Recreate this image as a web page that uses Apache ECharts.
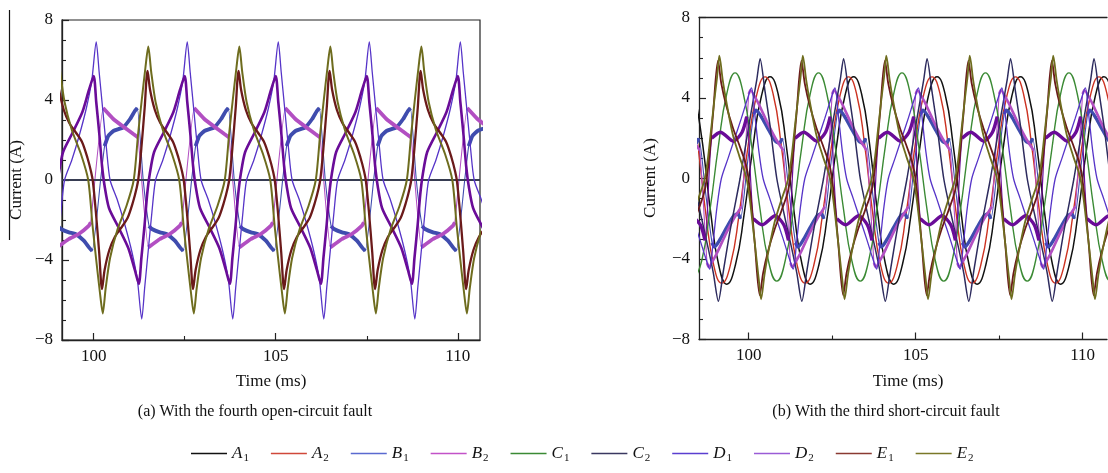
<!DOCTYPE html>
<html><head><meta charset="utf-8">
<script src="https://cdn.jsdelivr.net/npm/echarts@6.0.0/dist/echarts.min.js"></script>
<style>html,body{margin:0;padding:0;background:#fff}#c{width:1108px;height:473px}</style>
</head><body><div id="c"></div><script>
// ---------- panel (a): fourth open-circuit fault ----------
const aZero = [[99.13,0],[110.61,0]];
const aB1 = [[98.70,3.6],[98.86,0],[99.02,-2.3],[99.10,-2.45],[99.32,-2.62],[99.50,-2.70],[99.73,-3.03],[99.87,-3.37],[99.96,-3.55],
[100.19,0],[100.30,1.7],[100.40,2.2],[100.54,2.45],[100.81,2.63],[101.00,3.05],[101.13,3.45],[101.20,3.6],[101.36,0],[101.52,-2.3],[101.60,-2.45],[101.82,-2.62],[102.00,-2.70],[102.23,-3.03],[102.37,-3.37],[102.46,-3.55],
[102.69,0],[102.80,1.7],[102.90,2.2],[103.04,2.45],[103.31,2.63],[103.50,3.05],[103.63,3.45],[103.70,3.6],[103.86,0],[104.02,-2.3],[104.10,-2.45],[104.32,-2.62],[104.50,-2.70],[104.73,-3.03],[104.87,-3.37],[104.96,-3.55],
[105.19,0],[105.30,1.7],[105.40,2.2],[105.54,2.45],[105.81,2.63],[106.00,3.05],[106.13,3.45],[106.20,3.6],[106.36,0],[106.52,-2.3],[106.60,-2.45],[106.82,-2.62],[107.00,-2.70],[107.23,-3.03],[107.37,-3.37],[107.46,-3.55],
[107.69,0],[107.80,1.7],[107.90,2.2],[108.04,2.45],[108.31,2.63],[108.50,3.05],[108.63,3.45],[108.70,3.6],[108.86,0],[109.02,-2.3],[109.10,-2.45],[109.32,-2.62],[109.50,-2.70],[109.73,-3.03],[109.87,-3.37],[109.96,-3.55],
[110.19,0],[110.30,1.7],[110.40,2.2],[110.54,2.45],[110.81,2.63]];
const aB2 = [[98.72,2.13],[99.00,-3.37],[99.32,-2.95],[99.59,-2.70],[99.87,-2.28],[99.92,-2.12],
[100.26,3.6],[100.54,3.05],[100.81,2.67],[101.09,2.30],[101.22,2.13],[101.50,-3.37],[101.82,-2.95],[102.09,-2.70],[102.37,-2.28],[102.42,-2.12],
[102.76,3.6],[103.04,3.05],[103.31,2.67],[103.59,2.30],[103.72,2.13],[104.00,-3.37],[104.32,-2.95],[104.59,-2.70],[104.87,-2.28],[104.92,-2.12],
[105.26,3.6],[105.54,3.05],[105.81,2.67],[106.09,2.30],[106.22,2.13],[106.50,-3.37],[106.82,-2.95],[107.09,-2.70],[107.37,-2.28],[107.42,-2.12],
[107.76,3.6],[108.04,3.05],[108.31,2.67],[108.59,2.30],[108.72,2.13],[109.00,-3.37],[109.32,-2.95],[109.59,-2.70],[109.87,-2.28],[109.92,-2.12],
[110.26,3.6],[110.54,3.05],[110.81,2.67]];
const aD1 = [[98.82,-6.95],[98.90,-5.4],[99.00,-3.5],[99.10,-1.6],[99.20,0],[99.40,1.0],[99.60,2.2],[99.80,3.6],[99.95,5.0],[100.07,6.9],
[100.15,5.4],[100.25,3.5],[100.35,1.6],[100.45,0],[100.65,-1.0],[100.85,-2.2],[101.05,-3.6],[101.20,-5.0],[101.32,-6.95],
[101.40,-5.4],[101.50,-3.5],[101.60,-1.6],[101.70,0],[101.90,1.0],[102.10,2.2],[102.30,3.6],[102.45,5.0],[102.57,6.9],
[102.65,5.4],[102.75,3.5],[102.85,1.6],[102.95,0],[103.15,-1.0],[103.35,-2.2],[103.55,-3.6],[103.70,-5.0],[103.82,-6.95],
[103.90,-5.4],[104.00,-3.5],[104.10,-1.6],[104.20,0],[104.40,1.0],[104.60,2.2],[104.80,3.6],[104.95,5.0],[105.07,6.9],
[105.15,5.4],[105.25,3.5],[105.35,1.6],[105.45,0],[105.65,-1.0],[105.85,-2.2],[106.05,-3.6],[106.20,-5.0],[106.32,-6.95],
[106.40,-5.4],[106.50,-3.5],[106.60,-1.6],[106.70,0],[106.90,1.0],[107.10,2.2],[107.30,3.6],[107.45,5.0],[107.57,6.9],
[107.65,5.4],[107.75,3.5],[107.85,1.6],[107.95,0],[108.15,-1.0],[108.35,-2.2],[108.55,-3.6],[108.70,-5.0],[108.82,-6.95],
[108.90,-5.4],[109.00,-3.5],[109.10,-1.6],[109.20,0],[109.40,1.0],[109.60,2.2],[109.80,3.6],[109.95,5.0],[110.07,6.9],
[110.15,5.4],[110.25,3.5],[110.35,1.6],[110.45,0],[110.65,-1.0],[110.85,-2.2]];
const aD2 = [[98.74,-5.2],[98.81,-3.9],[98.90,-2.2],[98.97,-0.7],[99.04,0.3],[99.16,1.4],[99.43,2.4],[99.69,3.4],[99.87,4.5],[100.00,5.2],
[100.07,3.9],[100.16,2.2],[100.23,0.7],[100.30,-0.3],[100.42,-1.4],[100.69,-2.4],[100.95,-3.4],[101.13,-4.5],[101.24,-5.2],
[101.31,-3.9],[101.40,-2.2],[101.47,-0.7],[101.54,0.3],[101.66,1.4],[101.93,2.4],[102.19,3.4],[102.37,4.5],[102.50,5.2],
[102.57,3.9],[102.66,2.2],[102.73,0.7],[102.80,-0.3],[102.92,-1.4],[103.19,-2.4],[103.45,-3.4],[103.63,-4.5],[103.74,-5.2],
[103.81,-3.9],[103.90,-2.2],[103.97,-0.7],[104.04,0.3],[104.16,1.4],[104.43,2.4],[104.69,3.4],[104.87,4.5],[105.00,5.2],
[105.07,3.9],[105.16,2.2],[105.23,0.7],[105.30,-0.3],[105.42,-1.4],[105.69,-2.4],[105.95,-3.4],[106.13,-4.5],[106.24,-5.2],
[106.31,-3.9],[106.40,-2.2],[106.47,-0.7],[106.54,0.3],[106.66,1.4],[106.93,2.4],[107.19,3.4],[107.37,4.5],[107.50,5.2],
[107.57,3.9],[107.66,2.2],[107.73,0.7],[107.80,-0.3],[107.92,-1.4],[108.19,-2.4],[108.45,-3.4],[108.63,-4.5],[108.74,-5.2],
[108.81,-3.9],[108.90,-2.2],[108.97,-0.7],[109.04,0.3],[109.16,1.4],[109.43,2.4],[109.69,3.4],[109.87,4.5],[110.00,5.2],
[110.07,3.9],[110.16,2.2],[110.23,0.7],[110.30,-0.3],[110.42,-1.4],[110.69,-2.4],[110.95,-3.4]];
const aE1 = [[98.43,-1.9],[98.58,-1.1],[98.68,-0.4],[98.73,0.1],[98.81,1.6],[98.90,3.6],[98.98,5.45],
[99.05,4.5],[99.18,3.5],[99.33,2.85],[99.50,2.4],[99.68,1.9],[99.83,1.1],[99.93,0.4],[99.98,-0.1],[100.06,-1.6],[100.15,-3.6],[100.23,-5.45],
[100.30,-4.5],[100.43,-3.5],[100.58,-2.85],[100.75,-2.4],[100.93,-1.9],[101.08,-1.1],[101.18,-0.4],[101.23,0.1],[101.31,1.6],[101.40,3.6],[101.48,5.45],
[101.55,4.5],[101.68,3.5],[101.83,2.85],[102.00,2.4],[102.18,1.9],[102.33,1.1],[102.43,0.4],[102.48,-0.1],[102.56,-1.6],[102.65,-3.6],[102.73,-5.45],
[102.80,-4.5],[102.93,-3.5],[103.08,-2.85],[103.25,-2.4],[103.43,-1.9],[103.58,-1.1],[103.68,-0.4],[103.73,0.1],[103.81,1.6],[103.90,3.6],[103.98,5.45],
[104.05,4.5],[104.18,3.5],[104.33,2.85],[104.50,2.4],[104.68,1.9],[104.83,1.1],[104.93,0.4],[104.98,-0.1],[105.06,-1.6],[105.15,-3.6],[105.23,-5.45],
[105.30,-4.5],[105.43,-3.5],[105.58,-2.85],[105.75,-2.4],[105.93,-1.9],[106.08,-1.1],[106.18,-0.4],[106.23,0.1],[106.31,1.6],[106.40,3.6],[106.48,5.45],
[106.55,4.5],[106.68,3.5],[106.83,2.85],[107.00,2.4],[107.18,1.9],[107.33,1.1],[107.43,0.4],[107.48,-0.1],[107.56,-1.6],[107.65,-3.6],[107.73,-5.45],
[107.80,-4.5],[107.93,-3.5],[108.08,-2.85],[108.25,-2.4],[108.43,-1.9],[108.58,-1.1],[108.68,-0.4],[108.73,0.1],[108.81,1.6],[108.90,3.6],[108.98,5.45],
[109.05,4.5],[109.18,3.5],[109.33,2.85],[109.50,2.4],[109.68,1.9],[109.83,1.1],[109.93,0.4],[109.98,-0.1],[110.06,-1.6],[110.15,-3.6],[110.23,-5.45],
[110.30,-4.5],[110.43,-3.5],[110.58,-2.85],[110.75,-2.4]];
const aE2 = [[98.60,0],[98.72,2.3],[98.82,4.0],[98.92,5.6],[99.00,6.67],
[99.08,5.4],[99.20,3.9],[99.40,2.5],[99.65,1.3],[99.85,0],[99.97,-2.3],[100.07,-4.0],[100.17,-5.6],[100.25,-6.67],
[100.33,-5.4],[100.45,-3.9],[100.65,-2.5],[100.90,-1.3],[101.10,0],[101.22,2.3],[101.32,4.0],[101.42,5.6],[101.50,6.67],
[101.58,5.4],[101.70,3.9],[101.90,2.5],[102.15,1.3],[102.35,0],[102.47,-2.3],[102.57,-4.0],[102.67,-5.6],[102.75,-6.67],
[102.83,-5.4],[102.95,-3.9],[103.15,-2.5],[103.40,-1.3],[103.60,0],[103.72,2.3],[103.82,4.0],[103.92,5.6],[104.00,6.67],
[104.08,5.4],[104.20,3.9],[104.40,2.5],[104.65,1.3],[104.85,0],[104.97,-2.3],[105.07,-4.0],[105.17,-5.6],[105.25,-6.67],
[105.33,-5.4],[105.45,-3.9],[105.65,-2.5],[105.90,-1.3],[106.10,0],[106.22,2.3],[106.32,4.0],[106.42,5.6],[106.50,6.67],
[106.58,5.4],[106.70,3.9],[106.90,2.5],[107.15,1.3],[107.35,0],[107.47,-2.3],[107.57,-4.0],[107.67,-5.6],[107.75,-6.67],
[107.83,-5.4],[107.95,-3.9],[108.15,-2.5],[108.40,-1.3],[108.60,0],[108.72,2.3],[108.82,4.0],[108.92,5.6],[109.00,6.67],
[109.08,5.4],[109.20,3.9],[109.40,2.5],[109.65,1.3],[109.85,0],[109.97,-2.3],[110.07,-4.0],[110.17,-5.6],[110.25,-6.67],
[110.33,-5.4],[110.45,-3.9],[110.65,-2.5],[110.90,-1.3]];

// ---------- panel (b): third short-circuit fault ----------
const bA1 = [[98.38,4.2],[98.62,1.7],[98.86,-1.7],[99.10,-4.3],[99.34,-5.25],[99.60,-4.3],[99.86,-1.8],[100.12,1.5],[100.38,4.1],[100.64,5.05],
[100.88,4.2],[101.12,1.7],[101.36,-1.7],[101.60,-4.3],[101.84,-5.25],[102.10,-4.3],[102.36,-1.8],[102.62,1.5],[102.88,4.1],[103.14,5.05],
[103.38,4.2],[103.62,1.7],[103.86,-1.7],[104.10,-4.3],[104.34,-5.25],[104.60,-4.3],[104.86,-1.8],[105.12,1.5],[105.38,4.1],[105.64,5.05],
[105.88,4.2],[106.12,1.7],[106.36,-1.7],[106.60,-4.3],[106.84,-5.25],[107.10,-4.3],[107.36,-1.8],[107.62,1.5],[107.88,4.1],[108.14,5.05],
[108.38,4.2],[108.62,1.7],[108.86,-1.7],[109.10,-4.3],[109.34,-5.25],[109.60,-4.3],[109.86,-1.8],[110.12,1.5],[110.38,4.1],[110.64,5.05],
[110.88,4.2],[111.12,1.7]];
const bA2 = [[98.23,4.2],[98.47,1.7],[98.71,-1.7],[98.95,-4.3],[99.19,-5.2],[99.45,-4.3],[99.71,-1.8],[99.97,1.5],[100.23,4.1],[100.49,5.05],
[100.73,4.2],[100.97,1.7],[101.21,-1.7],[101.45,-4.3],[101.69,-5.2],[101.95,-4.3],[102.21,-1.8],[102.47,1.5],[102.73,4.1],[102.99,5.05],
[103.23,4.2],[103.47,1.7],[103.71,-1.7],[103.95,-4.3],[104.19,-5.2],[104.45,-4.3],[104.71,-1.8],[104.97,1.5],[105.23,4.1],[105.49,5.05],
[105.73,4.2],[105.97,1.7],[106.21,-1.7],[106.45,-4.3],[106.69,-5.2],[106.95,-4.3],[107.21,-1.8],[107.47,1.5],[107.73,4.1],[107.99,5.05],
[108.23,4.2],[108.47,1.7],[108.71,-1.7],[108.95,-4.3],[109.19,-5.2],[109.45,-4.3],[109.71,-1.8],[109.97,1.5],[110.23,4.1],[110.49,5.05],
[110.73,4.2],[110.97,1.7],[111.21,-1.7]];
const bB1 = [[98.10,2.4],[98.30,1.85],[98.42,1.75],[98.50,2.0],[98.70,-0.6],[98.90,-3.2],[98.97,-3.4],[99.15,-3.0],[99.35,-2.4],[99.55,-1.85],[99.67,-1.75],
[99.75,-2.0],[99.95,0.6],[100.15,3.2],[100.22,3.4],[100.40,3.0],[100.60,2.4],[100.80,1.85],[100.92,1.75],[101.00,2.0],[101.20,-0.6],[101.40,-3.2],[101.47,-3.4],[101.65,-3.0],[101.85,-2.4],[102.05,-1.85],[102.17,-1.75],
[102.25,-2.0],[102.45,0.6],[102.65,3.2],[102.72,3.4],[102.90,3.0],[103.10,2.4],[103.30,1.85],[103.42,1.75],[103.50,2.0],[103.70,-0.6],[103.90,-3.2],[103.97,-3.4],[104.15,-3.0],[104.35,-2.4],[104.55,-1.85],[104.67,-1.75],
[104.75,-2.0],[104.95,0.6],[105.15,3.2],[105.22,3.4],[105.40,3.0],[105.60,2.4],[105.80,1.85],[105.92,1.75],[106.00,2.0],[106.20,-0.6],[106.40,-3.2],[106.47,-3.4],[106.65,-3.0],[106.85,-2.4],[107.05,-1.85],[107.17,-1.75],
[107.25,-2.0],[107.45,0.6],[107.65,3.2],[107.72,3.4],[107.90,3.0],[108.10,2.4],[108.30,1.85],[108.42,1.75],[108.50,2.0],[108.70,-0.6],[108.90,-3.2],[108.97,-3.4],[109.15,-3.0],[109.35,-2.4],[109.55,-1.85],[109.67,-1.75],
[109.75,-2.0],[109.95,0.6],[110.15,3.2],[110.22,3.4],[110.40,3.0],[110.60,2.4],[110.80,1.85],[110.92,1.75],[111.00,2.0],[111.20,-0.6]];
const bB2 = [[98.05,2.8],[98.30,2.0],[98.53,1.4],[98.75,-4.2],[98.80,-4.4],[99.05,-3.7],[99.30,-2.8],[99.55,-2.0],[99.78,-1.4],
[100.00,4.2],[100.05,4.4],[100.30,3.7],[100.55,2.8],[100.80,2.0],[101.03,1.4],[101.25,-4.2],[101.30,-4.4],[101.55,-3.7],[101.80,-2.8],[102.05,-2.0],[102.28,-1.4],
[102.50,4.2],[102.55,4.4],[102.80,3.7],[103.05,2.8],[103.30,2.0],[103.53,1.4],[103.75,-4.2],[103.80,-4.4],[104.05,-3.7],[104.30,-2.8],[104.55,-2.0],[104.78,-1.4],
[105.00,4.2],[105.05,4.4],[105.30,3.7],[105.55,2.8],[105.80,2.0],[106.03,1.4],[106.25,-4.2],[106.30,-4.4],[106.55,-3.7],[106.80,-2.8],[107.05,-2.0],[107.28,-1.4],
[107.50,4.2],[107.55,4.4],[107.80,3.7],[108.05,2.8],[108.30,2.0],[108.53,1.4],[108.75,-4.2],[108.80,-4.4],[109.05,-3.7],[109.30,-2.8],[109.55,-2.0],[109.78,-1.4],
[110.00,4.2],[110.05,4.4],[110.30,3.7],[110.55,2.8],[110.80,2.0],[111.03,1.4],[111.25,-4.2]];
const bC1 = [[98.34,-5.1],[98.59,-4.1],[98.84,-1.55],[99.09,1.6],[99.34,4.2],[99.59,5.25],[99.84,4.2],[100.09,1.6],[100.34,-1.55],[100.59,-4.1],
[100.84,-5.1],[101.09,-4.1],[101.34,-1.55],[101.59,1.6],[101.84,4.2],[102.09,5.25],[102.34,4.2],[102.59,1.6],[102.84,-1.55],[103.09,-4.1],
[103.34,-5.1],[103.59,-4.1],[103.84,-1.55],[104.09,1.6],[104.34,4.2],[104.59,5.25],[104.84,4.2],[105.09,1.6],[105.34,-1.55],[105.59,-4.1],
[105.84,-5.1],[106.09,-4.1],[106.34,-1.55],[106.59,1.6],[106.84,4.2],[107.09,5.25],[107.34,4.2],[107.59,1.6],[107.84,-1.55],[108.09,-4.1],
[108.34,-5.1],[108.59,-4.1],[108.84,-1.55],[109.09,1.6],[109.34,4.2],[109.59,5.25],[109.84,4.2],[110.09,1.6],[110.34,-1.55],[110.59,-4.1],
[110.84,-5.1],[111.09,-4.1]];
const bC2 = [[97.84,5.95],[97.99,4.3],[98.14,2.6],[98.34,0],[98.59,-2.0],[98.79,-3.5],[98.94,-4.7],[99.09,-6.1],[99.24,-4.6],[99.44,-2.6],[99.74,0],[100.04,3.0],[100.24,4.9],[100.34,5.95],
[100.49,4.3],[100.64,2.6],[100.84,0],[101.09,-2.0],[101.29,-3.5],[101.44,-4.7],[101.59,-6.1],[101.74,-4.6],[101.94,-2.6],[102.24,0],[102.54,3.0],[102.74,4.9],[102.84,5.95],
[102.99,4.3],[103.14,2.6],[103.34,0],[103.59,-2.0],[103.79,-3.5],[103.94,-4.7],[104.09,-6.1],[104.24,-4.6],[104.44,-2.6],[104.74,0],[105.04,3.0],[105.24,4.9],[105.34,5.95],
[105.49,4.3],[105.64,2.6],[105.84,0],[106.09,-2.0],[106.29,-3.5],[106.44,-4.7],[106.59,-6.1],[106.74,-4.6],[106.94,-2.6],[107.24,0],[107.54,3.0],[107.74,4.9],[107.84,5.95],
[107.99,4.3],[108.14,2.6],[108.34,0],[108.59,-2.0],[108.79,-3.5],[108.94,-4.7],[109.09,-6.1],[109.24,-4.6],[109.44,-2.6],[109.74,0],[110.04,3.0],[110.24,4.9],[110.34,5.95],
[110.49,4.3],[110.64,2.6],[110.84,0],[111.09,-2.0]];
const bD1 = [[98.13,-1.0],[98.33,-2.0],[98.53,-3.0],[98.70,-3.9],[98.83,-4.5],[98.93,-3.2],[99.05,-1.4],[99.18,0],[99.38,1.0],[99.58,2.0],[99.78,3.0],[99.95,3.9],[100.08,4.5],
[100.18,3.2],[100.30,1.4],[100.43,0],[100.63,-1.0],[100.83,-2.0],[101.03,-3.0],[101.20,-3.9],[101.33,-4.5],
[101.43,-3.2],[101.55,-1.4],[101.68,0],[101.88,1.0],[102.08,2.0],[102.28,3.0],[102.45,3.9],[102.58,4.5],
[102.68,3.2],[102.80,1.4],[102.93,0],[103.13,-1.0],[103.33,-2.0],[103.53,-3.0],[103.70,-3.9],[103.83,-4.5],
[103.93,-3.2],[104.05,-1.4],[104.18,0],[104.38,1.0],[104.58,2.0],[104.78,3.0],[104.95,3.9],[105.08,4.5],
[105.18,3.2],[105.30,1.4],[105.43,0],[105.63,-1.0],[105.83,-2.0],[106.03,-3.0],[106.20,-3.9],[106.33,-4.5],
[106.43,-3.2],[106.55,-1.4],[106.68,0],[106.88,1.0],[107.08,2.0],[107.28,3.0],[107.45,3.9],[107.58,4.5],
[107.68,3.2],[107.80,1.4],[107.93,0],[108.13,-1.0],[108.33,-2.0],[108.53,-3.0],[108.70,-3.9],[108.83,-4.5],
[108.93,-3.2],[109.05,-1.4],[109.18,0],[109.38,1.0],[109.58,2.0],[109.78,3.0],[109.95,3.9],[110.08,4.5],
[110.18,3.2],[110.30,1.4],[110.43,0],[110.63,-1.0],[110.83,-2.0],[111.03,-3.0],[111.20,-3.9]];
const bD2 = [[98.29,-1.85],[98.55,-2.3],[98.69,-3.07],[98.89,2.0],[99.15,2.3],[99.54,1.85],[99.80,2.3],
[99.94,3.07],[100.14,-2.0],[100.40,-2.3],[100.79,-1.85],[101.05,-2.3],[101.19,-3.07],[101.39,2.0],[101.65,2.3],[102.04,1.85],[102.30,2.3],
[102.44,3.07],[102.64,-2.0],[102.90,-2.3],[103.29,-1.85],[103.55,-2.3],[103.69,-3.07],[103.89,2.0],[104.15,2.3],[104.54,1.85],[104.80,2.3],
[104.94,3.07],[105.14,-2.0],[105.40,-2.3],[105.79,-1.85],[106.05,-2.3],[106.19,-3.07],[106.39,2.0],[106.65,2.3],[107.04,1.85],[107.30,2.3],
[107.44,3.07],[107.64,-2.0],[107.90,-2.3],[108.29,-1.85],[108.55,-2.3],[108.69,-3.07],[108.89,2.0],[109.15,2.3],[109.54,1.85],[109.80,2.3],
[109.94,3.07],[110.14,-2.0],[110.40,-2.3],[110.79,-1.85],[111.05,-2.3]];
const bE1 = [[98.08,-3.6],[98.28,-2.5],[98.48,-1.6],[98.68,-0.6],[98.80,0.8],[98.93,3.2],[99.08,5.85],
[99.18,4.7],[99.33,3.6],[99.53,2.5],[99.73,1.6],[99.93,0.6],[100.05,-0.8],[100.18,-3.2],[100.33,-5.8],
[100.43,-4.7],[100.58,-3.6],[100.78,-2.5],[100.98,-1.6],[101.18,-0.6],[101.30,0.8],[101.43,3.2],[101.58,5.85],
[101.68,4.7],[101.83,3.6],[102.03,2.5],[102.23,1.6],[102.43,0.6],[102.55,-0.8],[102.68,-3.2],[102.83,-5.8],
[102.93,-4.7],[103.08,-3.6],[103.28,-2.5],[103.48,-1.6],[103.68,-0.6],[103.80,0.8],[103.93,3.2],[104.08,5.85],
[104.18,4.7],[104.33,3.6],[104.53,2.5],[104.73,1.6],[104.93,0.6],[105.05,-0.8],[105.18,-3.2],[105.33,-5.8],
[105.43,-4.7],[105.58,-3.6],[105.78,-2.5],[105.98,-1.6],[106.18,-0.6],[106.30,0.8],[106.43,3.2],[106.58,5.85],
[106.68,4.7],[106.83,3.6],[107.03,2.5],[107.23,1.6],[107.43,0.6],[107.55,-0.8],[107.68,-3.2],[107.83,-5.8],
[107.93,-4.7],[108.08,-3.6],[108.28,-2.5],[108.48,-1.6],[108.68,-0.6],[108.80,0.8],[108.93,3.2],[109.08,5.85],
[109.18,4.7],[109.33,3.6],[109.53,2.5],[109.73,1.6],[109.93,0.6],[110.05,-0.8],[110.18,-3.2],[110.33,-5.8],
[110.43,-4.7],[110.58,-3.6],[110.78,-2.5],[110.98,-1.6],[111.18,-0.6]];
const bE2 = [[98.07,-3.8],[98.27,-2.2],[98.47,-1.1],[98.67,-0.1],[98.77,0.9],[98.87,2.4],[98.97,3.9],[99.05,5.0],[99.12,6.1],
[99.22,4.9],[99.32,3.9],[99.52,2.2],[99.72,1.1],[99.92,0.1],[100.02,-0.9],[100.12,-2.3],[100.22,-3.8],[100.30,-5.0],[100.37,-6.0],
[100.47,-4.8],[100.57,-3.8],[100.77,-2.2],[100.97,-1.1],[101.17,-0.1],[101.27,0.9],[101.37,2.4],[101.47,3.9],[101.55,5.0],[101.62,6.1],
[101.72,4.9],[101.82,3.9],[102.02,2.2],[102.22,1.1],[102.42,0.1],[102.52,-0.9],[102.62,-2.3],[102.72,-3.8],[102.80,-5.0],[102.87,-6.0],
[102.97,-4.8],[103.07,-3.8],[103.27,-2.2],[103.47,-1.1],[103.67,-0.1],[103.77,0.9],[103.87,2.4],[103.97,3.9],[104.05,5.0],[104.12,6.1],
[104.22,4.9],[104.32,3.9],[104.52,2.2],[104.72,1.1],[104.92,0.1],[105.02,-0.9],[105.12,-2.3],[105.22,-3.8],[105.30,-5.0],[105.37,-6.0],
[105.47,-4.8],[105.57,-3.8],[105.77,-2.2],[105.97,-1.1],[106.17,-0.1],[106.27,0.9],[106.37,2.4],[106.47,3.9],[106.55,5.0],[106.62,6.1],
[106.72,4.9],[106.82,3.9],[107.02,2.2],[107.22,1.1],[107.42,0.1],[107.52,-0.9],[107.62,-2.3],[107.72,-3.8],[107.80,-5.0],[107.87,-6.0],
[107.97,-4.8],[108.07,-3.8],[108.27,-2.2],[108.47,-1.1],[108.67,-0.1],[108.77,0.9],[108.87,2.4],[108.97,3.9],[109.05,5.0],[109.12,6.1],
[109.22,4.9],[109.32,3.9],[109.52,2.2],[109.72,1.1],[109.92,0.1],[110.02,-0.9],[110.12,-2.3],[110.22,-3.8],[110.30,-5.0],[110.37,-6.0],
[110.47,-4.8],[110.57,-3.8],[110.77,-2.2],[110.97,-1.1],[111.17,-0.1]];

// ---------- labels / ticks ----------
const seriesNames = ['A1','A2','B1','B2','C1','C2','D1','D2','E1','E2'];
const xMajorTicks = [100, 105, 110];
const xMinorTicks = [102.5, 107.5];
const captionA = '(a) With the fourth open-circuit fault';
const captionB = '(b) With the third short-circuit fault';

const colors = {A1:'#111111',A2:'#cc3322',B1:'#3f4cae',B2:'#b24fc2',C1:'#3b8a34',C2:'#2d2b5e',D1:'#5634c8',D2:'#6a0c98',E1:'#6b1a1a',E2:'#6e6c1e'};
const legendColors = {A1:'#111111',A2:'#d0483a',B1:'#5a6ad0',B2:'#c252c8',C1:'#3b8a34',C2:'#3a3860',D1:'#5a3ed0',D2:'#9a5cd6',E1:'#8a3a32',E2:'#7a7828'};
const panelA = {A1:aZero,A2:aZero,B1:aB1,B2:aB2,C1:aZero,C2:aZero,D1:aD1,D2:aD2,E1:aE1,E2:aE2};
const panelB = {A1:bA1,A2:bA2,B1:bB1,B2:bB2,C1:bC1,C2:bC2,D1:bD1,D2:bD2,E1:bE1,E2:bE2};
const widthA = {A1:1.4,A2:1.4,B1:1.1,B2:1.1,C1:1.4,C2:1.4,D1:1.3,D2:2.6,E1:2.3,E2:2.0};
const widthB = {A1:1.5,A2:1.4,B1:1.1,B2:1.1,C1:1.4,C2:1.5,D1:1.3,D2:1.2,E1:1.8,E2:1.8};
const thickA = {B1:3.8,B2:3.8};            // noisy plateaus drawn thick, fast edges thin
const thickB = {B1:3.4,B2:2.6,D2:3.4};
const smoothA = {A1:0,A2:0,B1:0.15,B2:0.1,C1:0,C2:0,D1:0.25,D2:0.25,E1:0.3,E2:0.25};
const smoothB = {A1:0.5,A2:0.5,B1:0.25,B2:0.15,C1:0.5,C2:0.25,D1:0.3,D2:0.25,E1:0.3,E2:0.3};

// break a waveform at its fast edges (steep slope) so only plateaus are drawn thick
function plateaus(data, maxSlope){
  const out = [];
  for (let i = 0; i < data.length; i++){
    if (i > 0){
      const s = Math.abs((data[i][1]-data[i-1][1])/(data[i][0]-data[i-1][0]));
      if (s > maxSlope) out.push([(data[i][0]+data[i-1][0])/2, null]);
    }
    out.push(data[i]);
  }
  return out;
}

const FONT = 'Liberation Serif';
const series = [];
function addPanel(panel, widths, thick, smooth, xi, yi){
  seriesNames.forEach(n => {
    series.push({name:n,type:'line',xAxisIndex:xi,yAxisIndex:yi,data:panel[n],symbol:'none',showSymbol:false,
      smooth:smooth[n],lineStyle:{color:colors[n],width:widths[n]},itemStyle:{color:colors[n]}});
    if (thick[n]) {
      series.push({name:n,type:'line',xAxisIndex:xi,yAxisIndex:yi,data:plateaus(panel[n],10),symbol:'none',showSymbol:false,
        connectNulls:false,smooth:smooth[n],lineStyle:{color:colors[n],width:thick[n]},itemStyle:{color:colors[n]}});
    }
  });
}
addPanel(panelA, widthA, thickA, smoothA, 0, 0);
addPanel(panelB, widthB, thickB, smoothB, 2, 1);

const minus = v => v < 0 ? '\u2212' + (-v) : String(v);
const AX = '#222';
function yAx(gi){
  return {gridIndex:gi,type:'value',min:-8,max:8,interval:4,
    axisLine:{show:true,lineStyle:{color:AX,width:1.3}},
    axisTick:{show:true,inside:true,length:7,lineStyle:{color:AX,width:1.2}},
    minorTick:{show:true,splitNumber:4,length:4,lineStyle:{color:AX,width:1.1}},
    axisLabel:{fontFamily:FONT,fontSize:17,color:'#111',margin:9,formatter:minus},
    splitLine:{show:false}};
}
function xMain(gi,mn,mx){
  return {gridIndex:gi,type:'value',min:mn,max:mx,position:'bottom',
    axisLine:{show:true,onZero:false,lineStyle:{color:AX,width:1.3}},
    axisTick:{show:true,inside:true,length:7,customValues:xMajorTicks,lineStyle:{color:AX,width:1.2}},
    axisLabel:{fontFamily:FONT,fontSize:17,color:'#111',margin:8,customValues:xMajorTicks},
    splitLine:{show:false}};
}
function xMinor(gi,mn,mx){
  return {gridIndex:gi,type:'value',min:mn,max:mx,position:'bottom',
    axisLine:{show:false,onZero:false},
    axisTick:{show:true,inside:true,length:4,customValues:xMinorTicks,lineStyle:{color:AX,width:1.1}},
    axisLabel:{show:false},splitLine:{show:false}};
}
function xTopFrame(gi,mn,mx){
  return {gridIndex:gi,type:'value',min:mn,max:mx,position:'top',
    axisLine:{show:true,onZero:false,lineStyle:{color:AX,width:1.3}},
    axisTick:{show:false},axisLabel:{show:false},splitLine:{show:false}};
}

const option = {
  animation:false,
  backgroundColor:'#ffffff',
  grid:[
    {left:62,top:20,width:418,height:320,show:true,borderColor:AX,borderWidth:1.2,backgroundColor:'transparent'},
    {left:699,top:17.5,right:1,height:322,show:false}
  ],
  xAxis:[xMain(0,99.13,110.61),xMinor(0,99.13,110.61),xMain(1,98.51,110.73),xMinor(1,98.51,110.73),xTopFrame(1,98.51,110.73)],
  yAxis:[yAx(0),yAx(1)],
  legend:{left:186,top:440,itemWidth:36,itemHeight:1.6,itemGap:22,icon:'rect',
    data:seriesNames.map(n => ({name:n,itemStyle:{color:legendColors[n]}})),
    formatter: n => '{a|' + n.charAt(0) + '}{b|' + n.charAt(1) + '}',
    textStyle:{rich:{
      a:{fontFamily:FONT,fontStyle:'italic',fontSize:17,color:'#111',verticalAlign:'middle'},
      b:{fontFamily:FONT,fontSize:11,color:'#111',padding:[9,0,0,1]}
    }}},
  graphic:[
    {type:'line',shape:{x1:9.5,y1:10,x2:9.5,y2:240},style:{stroke:'#111',lineWidth:1.2}},
    {type:'text',x:17,y:180,rotation:Math.PI/2,style:{text:'Current (A)',font:'17px "Liberation Serif"',fill:'#111',align:'center',verticalAlign:'middle'}},
    {type:'text',x:651,y:178,rotation:Math.PI/2,style:{text:'Current (A)',font:'17px "Liberation Serif"',fill:'#111',align:'center',verticalAlign:'middle'}},
    {type:'text',x:271,y:382,style:{text:'Time (ms)',font:'17px "Liberation Serif"',fill:'#111',align:'center',verticalAlign:'middle'}},
    {type:'text',x:908,y:382,style:{text:'Time (ms)',font:'17px "Liberation Serif"',fill:'#111',align:'center',verticalAlign:'middle'}},
    {type:'text',x:255,y:412,style:{text:captionA,font:'16px "Liberation Serif"',fill:'#111',align:'center',verticalAlign:'middle'}},
    {type:'text',x:886,y:412,style:{text:captionB,font:'16px "Liberation Serif"',fill:'#111',align:'center',verticalAlign:'middle'}}
  ],
  series:series
};
const chart = echarts.init(document.getElementById('c'),null,{renderer:'canvas'});
chart.setOption(option);
</script></body></html>
